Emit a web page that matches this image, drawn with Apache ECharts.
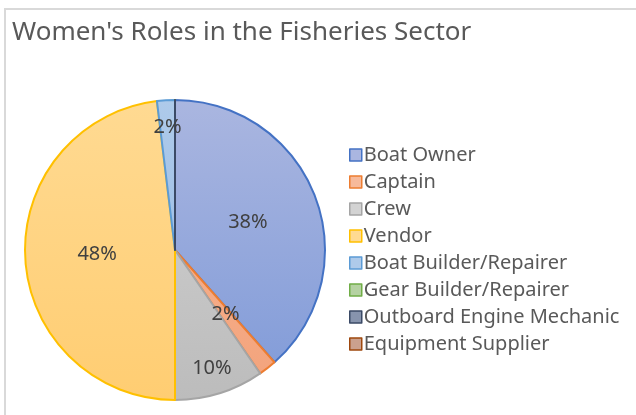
<!DOCTYPE html>
<html>
<head>
<meta charset="utf-8">
<script src="https://cdn.jsdelivr.net/npm/echarts@6/dist/echarts.min.js"></script>
<style>
	html, body { margin: 0; padding: 0; background: #fff; }
	#chart { width: 636px; height: 415px; }
</style>
</head>
<body>
<div id="chart"></div>
<script>
	// data (52 respondents)
	var roles = ['Boat Owner', 'Captain', 'Crew', 'Vendor', 'Boat Builder/Repairer',
		'Gear Builder/Repairer', 'Outboard Engine Mechanic', 'Equipment Supplier']
	var counts = [20, 1, 5, 25, 1, 0, 0, 0]

	// office-style palette: fill top, fill bottom, border
	var fillTop = ['#aab6e0', '#f7ba9b', '#d3d3d3', '#ffda92', '#aecaea', '#b5d2a2', '#8794ad', '#cba18e']
	var fillBottom = ['#7f9ad8', '#f3a27a', '#bcbcbc', '#ffcd72', '#92b8e3', '#9bc483', '#6a7ba0', '#bd8467']
	var borders = ['#4472C4', '#ED7D31', '#A5A5A5', '#FFC000', '#5B9BD5', '#70AD47', '#3b4a66', '#9E480E']

	var cx = 175, cy = 250, r = 150
	// small slices get their label pushed further out, like excel best fit
	var labelRadius = { 1: 82, 2: 124, 4: 123 }

	var chart = echarts.init(document.getElementById('chart'))

	var pieData = [], legendData = []
	for (var i = 0; i < roles.length; i++) {
		pieData.push({
			name: roles[i],
			value: counts[i],
			itemStyle: {
				color: new echarts.graphic.LinearGradient(0, cy - r, 0, cy + r, [
					{ offset: 0, color: fillTop[i] },
					{ offset: 1, color: fillBottom[i] }
				], true),
				borderColor: borders[i],
				// the last empty slice is hidden under the mechanic line in the original
				borderWidth: i === roles.length - 1 ? 0 : 2
			}
		})
		legendData.push({
			name: roles[i],
			icon: 'rect',
			itemStyle: {
				color: fillTop[i],
				borderColor: borders[i],
				borderWidth: 1.5
			}
		})
	}

	var option = {
		animation: false,
		backgroundColor: '#fff',
		graphic: [{
			type: 'rect',
			shape: { x: 5, y: 9, width: 700, height: 500 },
			style: { fill: 'none', stroke: '#d9d9d9', lineWidth: 2 },
			silent: true
		}],
		title: {
			text: "Women's Roles in the Fisheries Sector",
			left: 7,
			top: 15,
			textStyle: {
				fontFamily: 'Noto Sans',
				fontSize: 26,
				fontWeight: 'normal',
				color: '#595959'
			}
		},
		legend: {
			orient: 'vertical',
			left: 344,
			top: 139,
			itemWidth: 12,
			itemHeight: 12,
			itemGap: 5,
			selectedMode: false,
			data: legendData,
			textStyle: {
				fontFamily: 'Noto Sans',
				fontSize: 20,
				lineHeight: 22,
				color: '#595959',
				padding: [0, 0, 0, -3]
			}
		},
		series: [{
			type: 'pie',
			center: [cx, cy],
			radius: [0, r],
			startAngle: 90,
			percentPrecision: 0,
			silent: true,
			data: pieData,
			label: {
				position: 'inside',
				fontFamily: 'Noto Sans',
				fontSize: 20,
				color: '#404040',
				formatter: function (p) {
					return p.value > 0 ? p.percent + '%' : ''
				}
			},
			labelLine: { show: false },
			labelLayout: function (p) {
				var rad = labelRadius[p.dataIndex]
				if (!rad) return {}
				var lx = p.labelRect.x + p.labelRect.width / 2
				var ly = p.labelRect.y + p.labelRect.height / 2
				var d = Math.sqrt((lx - cx) * (lx - cx) + (ly - cy) * (ly - cy))
				return {
					x: cx + (lx - cx) * rad / d,
					y: cy + (ly - cy) * rad / d
				}
			}
		}]
	}
	chart.setOption(option)
</script>
</body>
</html>
